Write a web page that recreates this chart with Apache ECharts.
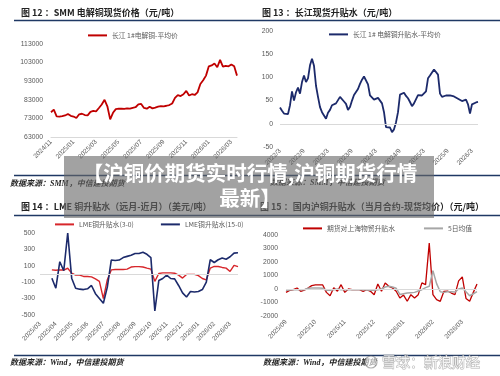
<!DOCTYPE html>
<html>
<head>
<meta charset="utf-8">
<script src="https://cdn.jsdelivr.net/npm/echarts@6/dist/echarts.min.js"></script>
<style>
html,body{margin:0;padding:0;background:#fff}
#main{width:500px;height:376px}
</style>
</head>
<body>
<div id="main"></div>
<script>
// 图12 SMM 电解铜现货价格, 每周一个点
var priceLabels = ['2024/11','2025/01','2025/03','2025/05','2025/07','2025/09','2025/11','2026/01','2026/03'];
var priceValues = [76300, 77700, 74100, 74000, 74200, 74600, 75400, 74400, 74000, 73200,
    75200, 75500, 74800, 74600, 76500, 77000, 76800, 78600, 80500, 83000,
    79500, 72500, 76000, 78000, 78200, 78300, 78100, 78400, 78300, 78700,
    79000, 80500, 80800, 78600, 78200, 79300, 78400, 78800, 79300, 79600,
    79500, 79800, 80200, 81000, 84000, 85500, 85000, 86000, 87800, 85300,
    86000, 85600, 87000, 91500, 93500, 96000, 101000, 101500, 102500, 100500,
    104500, 100800, 101200, 101000, 102000, 101000, 96000];

// 图13 长江现货升贴水, 半月一个点
var basisLabels = ['2022/3','2022/9','2023/3','2023/9','2024/3','2024/9','2025/3','2025/9','2026/3'];
var basisValues = [35, 28, 22, 20, 21, 40, 70, 50, 68, 78,
    65, 90, 104, 90, 98, 126, 140, 125, 82, 58,
    36, 25, 22, 11, 24, 30, 40, 43, 44, 48,
    58, 60, 48, 43, 30, 36, 50, 62, 60, 75,
    86, 95, 102, 100, 85, 61, 63, 52, 50, 56,
    50, 44, 25, -7, -5, -8, -18, -12, 3, 25,
    63, 66, 67, 60, 55, 47, 38, 44, 47, 62,
    65, 61, 58, 70, 98, 104, 106, 117, 116, 106,
    65, 58, 62, 61, 58, 61, 58, 59, 56, 54,
    50, 49, 48, 52, 42, 22, 42, 45, 46, 47];

// 图14 LME 升贴水, 每周一个点
var lmeLabels = ['2025/03','2025/04','2025/05','2025/06','2025/07','2025/08','2025/09','2025/10','2025/11','2025/12','2026/01','2026/02','2026/03'];
var lme3m = [null, null, null, 50, 45, 50, 48, 70, 10, -14,
    -14, -30, -30, -35, -60, -90, -300, -70, 50, 55,
    55, 55, 60, 85, 90, 90, 85, 72, 60, -90,
    6, 14, 14, 14, 10, -14, -50, -5, -5, -5,
    -20, -55, -71, 72, 92, 92, 80, 72, 31, 105,
    90];
var lme15m = [null, null, null, -51, -173, 150, 40, 500, -51, -173,
    -185, -190, -180, -140, -240, -300, -357, -160, 170, 165,
    170, 200, 215, 230, 250, 250, 265, 240, 200, -451,
    -80, -55, -14, -55, -60, -140, -230, -280, -214, -220,
    -214, -190, -100, 174, 140, 174, 194, 180, 210, 255,
    260];

// 图15 国内沪铜升贴水, 每月8个点
var shLabels = ['2025/09','2025/10','2025/11','2025/12','2026/01','2026/02','2026/03'];
var shSpread = [-250, -100, -50, 75, -170, -80, 75, 250, 300, 300,
    300, -250, -500, 100, -170, 320, -250, 0, -50, -50,
    -50, -170, -50, -170, -420, 370, -170, 450, 200, 75,
    -170, -670, -450, -910, -420, -670, -420, 450, 320, 3400,
    -420, -790, -910, -170, -150, -300, -420, 600, 900, -700,
    -900, -250, 370];
var shMa5 = [-100, -80, -50, -50, -50, -50, 50, 75, 75, 75,
    50, -100, -100, -50, 0, -50, -50, -50, -50, -50,
    -50, -60, -80, -100, -100, -50, 0, 150, 200, 150,
    50, -400, -350, -300, -270, -250, -150, -50, 100, 200,
    1350, 400, -200, -250, -200, -200, -230, 0, 75, -200,
    -500, -350, -200];

var myChart = echarts.init(document.getElementById('main'));

function idxList(n) {
    var a = [];
    for (var i = 0; i < n; i++) a.push(String(i));
    return a;
}

function xAxisFor(grid, n, step, labels, margin, showLine) {
    return {
        type: 'category', gridIndex: grid, boundaryGap: false, data: idxList(n),
        axisLine: {show: showLine, onZero: false, lineStyle: {color: '#d9d9d9'}},
        axisTick: {show: false},
        splitLine: {show: false},
        axisLabel: {
            rotate: 45, fontSize: 6.5, color: '#595959', margin: margin,
            fontFamily: 'Liberation Sans',
            interval: function (i) { return i % step === 0 && labels[i / step] !== undefined; },
            formatter: function (v, i) { return labels[i / step] || ''; }
        }
    };
}

function yAxisFor(grid, min, max, interval, margin) {
    return {
        type: 'value', gridIndex: grid, min: min, max: max, interval: interval,
        splitLine: {show: false}, axisLine: {show: false}, axisTick: {show: false},
        axisLabel: {fontSize: 6.8, color: '#595959', margin: margin, fontFamily: 'Liberation Sans',
            formatter: function (v) { return String(v); }}
    };
}

var zeroLine = {
    silent: true, symbol: 'none', label: {show: false}, animation: false,
    lineStyle: {color: '#d9d9d9', width: 1, type: 'solid'},
    data: [{yAxis: 0}]
};

var legendBase = {
    icon: 'rect', itemWidth: 19, itemHeight: 2, padding: 0, itemGap: 27,
    textStyle: {fontSize: 6.8, color: '#595959', fontFamily: 'Noto Sans CJK SC'}
};

function legendAt(names, left, top, gap) {
    return Object.assign({}, legendBase, {data: names, left: left, top: top, itemGap: gap || 27});
}

var navy = '#1f3864';
var titleFont = {fontSize: 9, fontWeight: 'bold', fill: '#222', fontFamily: 'Noto Sans CJK SC'};
var srcFont = {fontSize: 8, fontWeight: 'bold', fontStyle: 'italic', fill: '#222', fontFamily: 'Liberation Serif, Noto Sans CJK SC'};

function txt(x, y, text, font, extra) {
    return Object.assign({type: 'text', x: x, y: y, z: 50,
        style: Object.assign({text: text, verticalAlign: 'middle'}, font)}, extra || {});
}
function hline(y, x1, x2) {
    return {type: 'line', z: 50, shape: {x1: x1, y1: y, x2: x2, y2: y}, style: {stroke: navy, lineWidth: 1.5}};
}

var option = {
    animation: false,
    backgroundColor: '#fff',
    textStyle: {fontFamily: 'Noto Sans CJK SC'},
    grid: [
        {left: 51, top: 44, width: 186, height: 93},
        {left: 280, top: 31, width: 198, height: 116},
        {left: 40, top: 233, width: 198, height: 82},
        {left: 286, top: 235, width: 191, height: 81}
    ],
    xAxis: [
        xAxisFor(0, priceValues.length, 8, priceLabels, 4, true),
        xAxisFor(1, basisValues.length, 12, basisLabels, 3, false),
        xAxisFor(2, lme3m.length, 4, lmeLabels, 8, false),
        xAxisFor(3, shSpread.length, 8, shLabels, 5, false)
    ],
    yAxis: [
        yAxisFor(0, 63000, 113000, 10000, 8),
        yAxisFor(1, -50, 200, 50, 7),
        yAxisFor(2, -500, 500, 200, 5),
        yAxisFor(3, -2000, 4000, 1000, 8)
    ],
    legend: [
        legendAt(['长江 1#电解铜-平均价'], 88, 32),
        legendAt(['长江 1# 电解铜升贴水-平均价'], 329, 31),
        legendAt(['LME铜升贴水(3-0)', 'LME铜升贴水(15-0)'], 55, 221, 27),
        legendAt(['期货对上海物贸升贴水', '5日均值'], 303, 225, 29)
    ],
    series: [
        {
            name: '长江 1#电解铜-平均价', type: 'line', xAxisIndex: 0, yAxisIndex: 0,
            data: priceValues, showSymbol: false, color: '#c00000',
            lineStyle: {width: 1.8, color: '#c00000'}
        },
        {
            name: '长江 1# 电解铜升贴水-平均价', type: 'line', xAxisIndex: 1, yAxisIndex: 1,
            data: basisValues, showSymbol: false, color: '#1c2a6b',
            lineStyle: {width: 1.8, color: '#1c2a6b'}, markLine: zeroLine, z: 3
        },
        {
            name: 'LME铜升贴水(3-0)', type: 'line', xAxisIndex: 2, yAxisIndex: 2,
            data: lme3m, showSymbol: false, color: '#d7262b',
            lineStyle: {width: 1.4, color: '#d7262b'}, markLine: zeroLine
        },
        {
            name: 'LME铜升贴水(15-0)', type: 'line', xAxisIndex: 2, yAxisIndex: 2,
            data: lme15m, showSymbol: false, color: '#1c2a6b',
            lineStyle: {width: 1.6, color: '#1c2a6b'}
        },
        {
            name: '期货对上海物贸升贴水', type: 'line', xAxisIndex: 3, yAxisIndex: 3,
            data: shSpread, showSymbol: false, color: '#c00000',
            lineStyle: {width: 1.3, color: '#c00000'}, markLine: zeroLine
        },
        {
            name: '5日均值', type: 'line', xAxisIndex: 3, yAxisIndex: 3,
            data: shMa5, showSymbol: false, color: '#a6a6a6',
            lineStyle: {width: 1.5, color: '#a6a6a6'}
        }
    ],
    graphic: [
        txt(21, 13, '图 12 ：SMM 电解铜现货价格（元/吨）', titleFont),
        txt(262, 13, '图 13 ：长江现货升贴水（元/吨）', titleFont),
        txt(21, 207, '图 14 ：LME 铜升贴水（远月-近月）（美元/吨）', titleFont),
        txt(260, 207, '图 15 ：国内沪铜升贴水（当月合约-现货均价）（元/吨）', titleFont),
        hline(20.5, 14, 500),
        hline(175.5, 14, 500),
        hline(215.5, 14, 500),
        hline(355.5, 14, 500),
        txt(10, 183.5, '数据来源：SMM，中信建投期货', srcFont),
        txt(270, 183, '数据来源：SMM，中信建投期货', srcFont),
        txt(10, 363, '数据来源：Wind，中信建投期货', srcFont),
        txt(263, 363, '数据来源：Wind，中信建投期货', srcFont),
        {type: 'rect', z: 100, shape: {x: 64, y: 156, width: 370, height: 62},
            style: {fill: 'rgba(105,105,105,0.62)'}},
        txt(250, 173, '【沪铜价期货实时行情,沪铜期货行情',
            {fontSize: 20.5, fontWeight: 'bold', fill: '#fff', align: 'center', fontFamily: 'Noto Sans CJK SC'}, {z: 101}),
        txt(250, 198, '最新】',
            {fontSize: 20.5, fontWeight: 'bold', fill: '#fff', align: 'center', fontFamily: 'Noto Sans CJK SC'}, {z: 101}),
        {type: 'circle', z: 101, shape: {cx: 371, cy: 362, r: 6},
            style: {fill: 'rgba(255,255,255,0.6)', stroke: 'rgba(110,110,110,0.55)', lineWidth: 1.2}},
        txt(382, 362, '雪球：新浪财经',
            {fontSize: 14, fill: 'rgba(255,255,255,0.85)', stroke: 'rgba(110,110,110,0.55)', lineWidth: 1,
             fontFamily: 'Noto Sans CJK SC'}, {z: 101})
    ]
};

myChart.setOption(option);
</script>
</body>
</html>
